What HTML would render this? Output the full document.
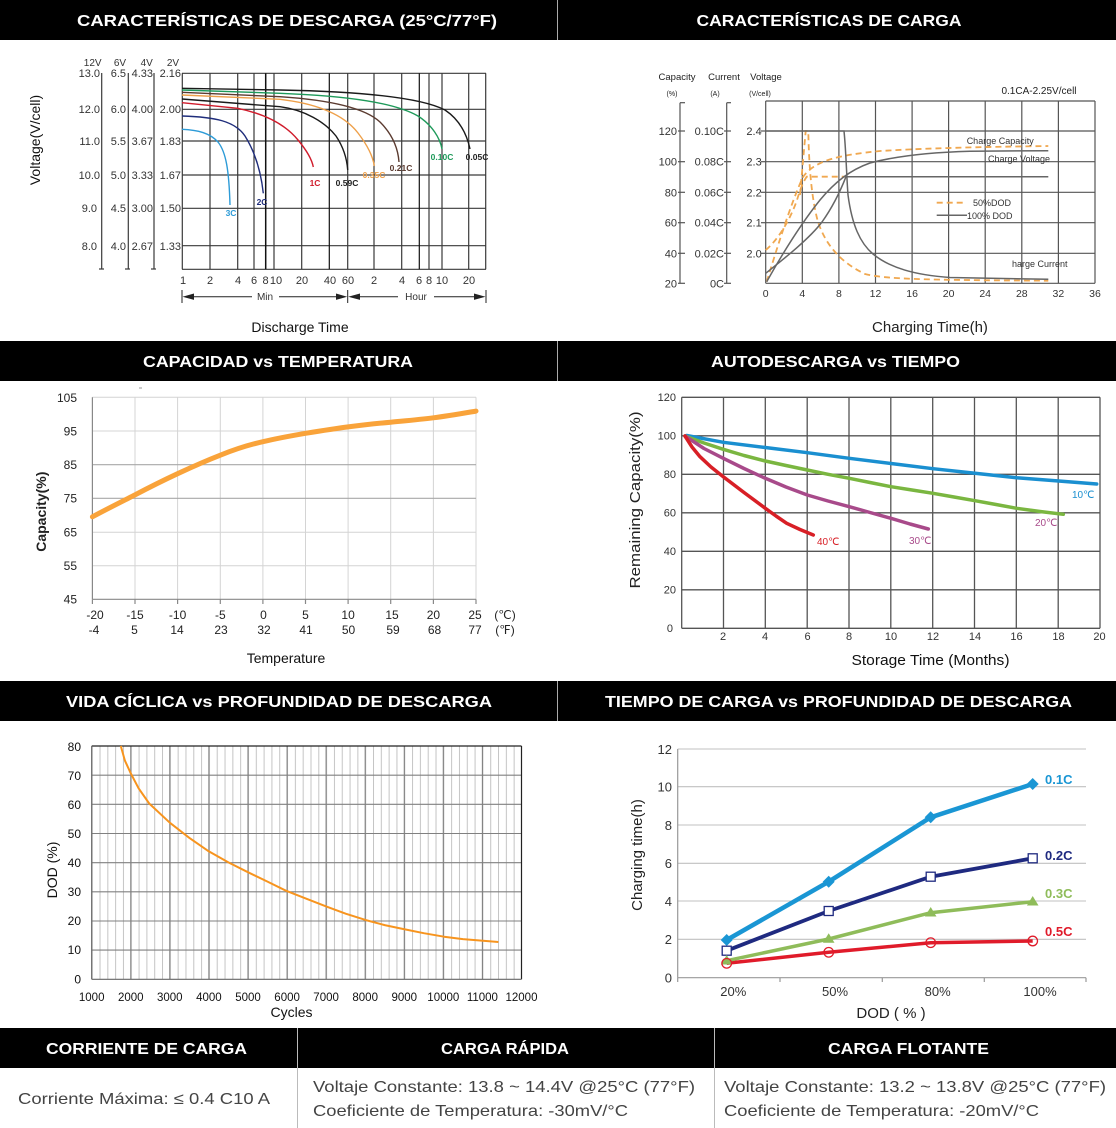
<!DOCTYPE html>
<html><head><meta charset="utf-8"><style>
html,body{margin:0;padding:0;background:#fff;}
svg{display:block;}
text{font-family:"Liberation Sans",sans-serif;}
</style></head><body>
<svg width="1116" height="1128" viewBox="0 0 1116 1128" xmlns="http://www.w3.org/2000/svg">
<defs>
<pattern id="minor" patternUnits="userSpaceOnUse" x="91.7" y="0" width="7.814" height="20">
<line x1="0.5" y1="0" x2="0.5" y2="20" stroke="#c4c4c4" stroke-width="1"/>
</pattern>
</defs>
<rect width="1116" height="1128" fill="#fff"/>

<!-- HEADERS -->
<rect x="0" y="0" width="1116" height="40" fill="#000"/>
<rect x="0" y="341" width="1116" height="40" fill="#000"/>
<rect x="0" y="681" width="1116" height="40" fill="#000"/>
<rect x="0" y="1028" width="1116" height="40" fill="#000"/>
<line x1="557.5" y1="0" x2="557.5" y2="40" stroke="#aaa"/>
<line x1="557.5" y1="341" x2="557.5" y2="381" stroke="#aaa"/>
<line x1="557.5" y1="681" x2="557.5" y2="721" stroke="#aaa"/>
<line x1="297.5" y1="1028" x2="297.5" y2="1128" stroke="#bbb"/>
<line x1="714.5" y1="1028" x2="714.5" y2="1128" stroke="#bbb"/>
<g font-weight="bold" font-size="16" fill="#fff" text-anchor="middle">
<text x="287" y="26" textLength="420" lengthAdjust="spacingAndGlyphs">CARACTERÍSTICAS DE DESCARGA (25°C/77°F)</text>
<text x="829" y="26" textLength="265" lengthAdjust="spacingAndGlyphs">CARACTERÍSTICAS DE CARGA</text>
<text x="278" y="367" textLength="270" lengthAdjust="spacingAndGlyphs">CAPACIDAD vs TEMPERATURA</text>
<text x="835.5" y="367" textLength="249" lengthAdjust="spacingAndGlyphs">AUTODESCARGA vs TIEMPO</text>
<text x="279" y="707" textLength="426" lengthAdjust="spacingAndGlyphs">VIDA CÍCLICA vs PROFUNDIDAD DE DESCARGA</text>
<text x="838.5" y="707" textLength="467" lengthAdjust="spacingAndGlyphs">TIEMPO DE CARGA vs PROFUNDIDAD DE DESCARGA</text>
<text x="146.5" y="1054" textLength="201" lengthAdjust="spacingAndGlyphs">CORRIENTE DE CARGA</text>
<text x="505" y="1054" textLength="128" lengthAdjust="spacingAndGlyphs">CARGA RÁPIDA</text>
<text x="908.5" y="1054" textLength="161" lengthAdjust="spacingAndGlyphs">CARGA FLOTANTE</text>
</g>

<!-- FOOTER BODY -->
<g font-size="16" fill="#444">
<text x="18" y="1104" textLength="252" lengthAdjust="spacingAndGlyphs">Corriente Máxima: ≤ 0.4 C10 A</text>
<text x="313" y="1092" textLength="382" lengthAdjust="spacingAndGlyphs">Voltaje Constante: 13.8 ~ 14.4V @25°C (77°F)</text>
<text x="313" y="1116" textLength="315" lengthAdjust="spacingAndGlyphs">Coeficiente de Temperatura: -30mV/°C</text>
<text x="724" y="1092" textLength="382" lengthAdjust="spacingAndGlyphs">Voltaje Constante: 13.2 ~ 13.8V @25°C (77°F)</text>
<text x="724" y="1116" textLength="315" lengthAdjust="spacingAndGlyphs">Coeficiente de Temperatura: -20mV/°C</text>
</g>

<!-- CHART 1: DISCHARGE -->
<g stroke="#3a3a3a" stroke-width="1.2" fill="none">
<line x1="182" y1="73.3" x2="486" y2="73.3"/>
<line x1="182" y1="109.3" x2="486" y2="109.3"/>
<line x1="182" y1="141" x2="486" y2="141"/>
<line x1="182" y1="175" x2="486" y2="175"/>
<line x1="182" y1="208.3" x2="486" y2="208.3"/>
<line x1="182" y1="245.7" x2="486" y2="245.7"/>
<line x1="182" y1="269.3" x2="486" y2="269.3"/>
<line x1="182.3" y1="73.3" x2="182.3" y2="269.3"/>
<line x1="210" y1="73.3" x2="210" y2="269.3"/>
<line x1="237.7" y1="73.3" x2="237.7" y2="269.3"/>
<line x1="254" y1="73.3" x2="254" y2="269.3"/>
<line x1="265.7" y1="73.3" x2="265.7" y2="269.3" stroke="#111" stroke-width="1.5"/>
<line x1="274" y1="73.3" x2="274" y2="269.3"/>
<line x1="301.7" y1="73.3" x2="301.7" y2="269.3"/>
<line x1="329.3" y1="73.3" x2="329.3" y2="269.3" stroke="#111"/>
<line x1="347.7" y1="73.3" x2="347.7" y2="269.3"/>
<line x1="374" y1="73.3" x2="374" y2="269.3"/>
<line x1="401.7" y1="73.3" x2="401.7" y2="269.3"/>
<line x1="419.3" y1="73.3" x2="419.3" y2="269.3" stroke="#111"/>
<line x1="429" y1="73.3" x2="429" y2="269.3"/>
<line x1="442" y1="73.3" x2="442" y2="269.3"/>
<line x1="468.7" y1="73.3" x2="468.7" y2="269.3"/>
<line x1="485.7" y1="73.3" x2="485.7" y2="269.3"/>
<!-- axis bars -->
<line x1="101.7" y1="73" x2="101.7" y2="269"/>
<line x1="128.3" y1="73" x2="128.3" y2="269"/>
<line x1="154" y1="73" x2="154" y2="269"/>
<line x1="99" y1="269" x2="104" y2="269"/>
<line x1="125" y1="269" x2="130" y2="269"/>
<line x1="151" y1="269" x2="156" y2="269"/>
</g>
<g font-size="10" fill="#333" text-anchor="middle">
<text x="92.7" y="66">12V</text><text x="120" y="66">6V</text><text x="146.7" y="66">4V</text><text x="173" y="66">2V</text>
</g>
<g font-size="11" fill="#333" text-anchor="end">
<text x="100" y="77">13.0</text><text x="126" y="77">6.5</text><text x="153" y="77">4.33</text><text x="181" y="77">2.16</text>
<text x="100" y="113">12.0</text><text x="126" y="113">6.0</text><text x="153" y="113">4.00</text><text x="181" y="113">2.00</text>
<text x="100" y="145">11.0</text><text x="126" y="145">5.5</text><text x="153" y="145">3.67</text><text x="181" y="145">1.83</text>
<text x="100" y="179">10.0</text><text x="126" y="179">5.0</text><text x="153" y="179">3.33</text><text x="181" y="179">1.67</text>
<text x="97" y="212">9.0</text><text x="126" y="212">4.5</text><text x="153" y="212">3.00</text><text x="181" y="212">1.50</text>
<text x="97" y="250">8.0</text><text x="126" y="250">4.0</text><text x="153" y="250">2.67</text><text x="181" y="250">1.33</text>
</g>
<g font-size="11" fill="#333" text-anchor="middle">
<text x="183" y="284">1</text><text x="210" y="284">2</text><text x="238" y="284">4</text><text x="254" y="284">6</text>
<text x="265.5" y="284">8</text><text x="276" y="284">10</text><text x="302" y="284">20</text><text x="330" y="284">40</text>
<text x="348" y="284">60</text><text x="374" y="284">2</text><text x="402" y="284">4</text><text x="419" y="284">6</text>
<text x="429" y="284">8</text><text x="442" y="284">10</text><text x="469" y="284">20</text>
</g>
<g stroke="#222" stroke-width="1" fill="none">
<line x1="182" y1="290" x2="182" y2="303"/>
<line x1="347.7" y1="290" x2="347.7" y2="303"/>
<line x1="486" y1="290" x2="486" y2="303"/>
<line x1="192" y1="296.7" x2="252" y2="296.7"/>
<line x1="279" y1="296.7" x2="338" y2="296.7"/>
<line x1="358" y1="296.7" x2="398" y2="296.7"/>
<line x1="434" y1="296.7" x2="476" y2="296.7"/>
</g>
<g fill="#222">
<polygon points="182.5,296.7 194,293.5 194,299.9"/>
<polygon points="347.2,296.7 336,293.5 336,299.9"/>
<polygon points="348.2,296.7 360,293.5 360,299.9"/>
<polygon points="485.5,296.7 474,293.5 474,299.9"/>
</g>
<g font-size="10" fill="#333" text-anchor="middle">
<text x="265" y="300">Min</text><text x="416" y="300">Hour</text>
</g>
<text x="300" y="332" font-size="14" fill="#111" text-anchor="middle">Discharge Time</text>
<text transform="translate(40,140) rotate(-90)" font-size="14" fill="#111" text-anchor="middle">Voltage(V/cell)</text>
<g fill="none" stroke-width="1.4">
<path d="M182,88.3 L280,90 C360,91.5 420,97 445,110 C460,120 467,135 470,149" stroke="#1a1a1a"/>
<path d="M182,90 L280,93.3 C350,96 395,103 418,116 C432,125 440,138 442,149" stroke="#1e9a5a"/>
<path d="M182,92.3 L280,96.7 C330,100 365,108 380,122 C392,134 398,148 399,162" stroke="#5b3b30"/>
<path d="M182,95 L280,99.3 C320,104 345,116 358,133 C368,146 373,157 374.3,166" stroke="#eea04a"/>
<path d="M182,99 L280,106.7 C305,110 325,122 336,136 C344,148 347,160 347.7,170" stroke="#1a1a1a"/>
<path d="M182,102.7 L237.7,108.3 C265,114 285,124 298,140 C308,152 312,160 313.3,167" stroke="#d01c2c"/>
<path d="M182,116 C215,117 235,121 245,136 C255,152 261,172 263.3,193.3" stroke="#1f2d7b"/>
<path d="M182,129.3 C198,130 210,133 218,142 C226,152 229,170 230,205" stroke="#2d9bd7"/>
</g>
<g font-size="8.5" font-weight="bold" text-anchor="middle">
<text x="231" y="216" fill="#2d9bd7">3C</text>
<text x="262" y="205" fill="#1f2d7b">2C</text>
<text x="315" y="186" fill="#d01c2c">1C</text>
<text x="347" y="186" fill="#222">0.59C</text>
<text x="374" y="178" fill="#eea04a">0.35C</text>
<text x="401" y="171" fill="#5b3b30">0.21C</text>
<text x="442" y="160" fill="#1e9a5a">0.10C</text>
<text x="477" y="160" fill="#222">0.05C</text>
</g>

<!-- CHART 2: CHARGE -->
<g stroke="#555" stroke-width="1.2" fill="none">
<line x1="765.7" y1="101" x2="1095" y2="101"/>
<line x1="765.7" y1="131" x2="1095" y2="131"/>
<line x1="765.7" y1="161.7" x2="1095" y2="161.7"/>
<line x1="765.7" y1="192.3" x2="1095" y2="192.3"/>
<line x1="765.7" y1="222.7" x2="1095" y2="222.7"/>
<line x1="765.7" y1="253.3" x2="1095" y2="253.3"/>
<line x1="765.7" y1="283.3" x2="1095" y2="283.3"/>
<line x1="765.7" y1="101" x2="765.7" y2="283.3"/>
<line x1="802.3" y1="101" x2="802.3" y2="283.3"/>
<line x1="838.9" y1="101" x2="838.9" y2="283.3"/>
<line x1="875.5" y1="101" x2="875.5" y2="283.3"/>
<line x1="912.1" y1="101" x2="912.1" y2="283.3"/>
<line x1="948.6" y1="101" x2="948.6" y2="283.3"/>
<line x1="985.2" y1="101" x2="985.2" y2="283.3"/>
<line x1="1021.8" y1="101" x2="1021.8" y2="283.3"/>
<line x1="1058.4" y1="101" x2="1058.4" y2="283.3"/>
<line x1="1095" y1="101" x2="1095" y2="283.3"/>
<line x1="680" y1="102.7" x2="680" y2="283.3"/>
<line x1="726.7" y1="102.7" x2="726.7" y2="283.3"/>
<line x1="680" y1="102.7" x2="685" y2="102.7"/>
<line x1="726.7" y1="102.7" x2="731" y2="102.7"/>
<line x1="678" y1="131" x2="685" y2="131"/><line x1="678" y1="161.7" x2="685" y2="161.7"/><line x1="678" y1="192.3" x2="685" y2="192.3"/>
<line x1="678" y1="222.7" x2="685" y2="222.7"/><line x1="678" y1="253.3" x2="685" y2="253.3"/><line x1="678" y1="283.3" x2="685" y2="283.3"/>
<line x1="724" y1="131" x2="731" y2="131"/><line x1="724" y1="161.7" x2="731" y2="161.7"/><line x1="724" y1="192.3" x2="731" y2="192.3"/>
<line x1="724" y1="222.7" x2="731" y2="222.7"/><line x1="724" y1="253.3" x2="731" y2="253.3"/><line x1="724" y1="283.3" x2="731" y2="283.3"/>
<line x1="761" y1="131" x2="766" y2="131"/><line x1="761" y1="161.7" x2="766" y2="161.7"/><line x1="761" y1="192.3" x2="766" y2="192.3"/>
<line x1="761" y1="222.7" x2="766" y2="222.7"/><line x1="761" y1="253.3" x2="766" y2="253.3"/>
</g>
<g font-size="9.5" fill="#222" text-anchor="middle">
<text x="677" y="80">Capacity</text><text x="724" y="80">Current</text><text x="766" y="80">Voltage</text>
</g>
<g font-size="7" fill="#222" text-anchor="middle">
<text x="672" y="96">(%)</text><text x="715" y="96">(A)</text><text x="760" y="96">(V/cell)</text>
</g>
<g font-size="11" fill="#333" text-anchor="end">
<text x="677" y="135">120</text><text x="677" y="165.7">100</text><text x="677" y="196.3">80</text>
<text x="677" y="226.7">60</text><text x="677" y="257.3">40</text><text x="677" y="287.3">20</text>
<text x="724" y="135">0.10C</text><text x="724" y="165.7">0.08C</text><text x="724" y="196.3">0.06C</text>
<text x="724" y="226.7">0.04C</text><text x="724" y="257.3">0.02C</text><text x="724" y="287.3">0C</text>
<text x="761.7" y="135">2.4</text><text x="761.7" y="165.7">2.3</text><text x="761.7" y="196.3">2.2</text>
<text x="761.7" y="226.7">2.1</text><text x="761.7" y="257.3">2.0</text>
</g>
<g font-size="10.5" fill="#333" text-anchor="middle">
<text x="765.7" y="297">0</text><text x="802.3" y="297">4</text><text x="838.9" y="297">8</text>
<text x="875.5" y="297">12</text><text x="912.1" y="297">16</text><text x="948.6" y="297">20</text>
<text x="985.2" y="297">24</text><text x="1021.8" y="297">28</text><text x="1058.4" y="297">32</text><text x="1095" y="297">36</text>
</g>
<text x="1039" y="94" font-size="10" fill="#222" text-anchor="middle">0.1CA-2.25V/cell</text>
<g fill="none" stroke="#f0a850" stroke-width="1.8" stroke-dasharray="6,4">
<path d="M765.7,250 C778,240 790,220 797,200 C800,190 803,182 806.7,176.7 L846.7,176.7"/>
<path d="M766.7,281.7 C775,255 790,205 803,177 C815,160 840,155 880,151 C930,148 980,147 1048.3,146"/>
<path d="M800,195 L805.7,131 L808.3,131 C809,170 812,200 818,222 C826,245 840,262 865,274 C885,279 920,280 1048.3,280.7"/>
<line x1="936.7" y1="202.7" x2="965" y2="202.7"/>
</g>
<g fill="none" stroke="#666" stroke-width="1.5">
<path d="M765.7,131 L844,131 C846,150 846.5,175 848,195 C852,225 860,243 873,254 C890,268 915,275 950,277.5 L1048.3,279.3"/>
<path d="M765.7,273.3 C785,258 810,238 822,222 C832,208 840,192 846,176.7 L1048.3,176.7"/>
<path d="M766.7,281.7 C780,258 800,225 820,200 C835,182 850,170 870,163 C900,155 940,152 970,151.2 L1048.3,150.7"/>
<line x1="936.7" y1="215.3" x2="967" y2="215.3"/>
</g>
<g font-size="9" fill="#333">
<text x="973" y="206">50%DOD</text>
<text x="967" y="219">100% DOD</text>
<text x="966.7" y="144">Charge Capacity</text>
<text x="988" y="162">Charge Voltage</text>
<text x="1012" y="267">harge Current</text>
</g>
<text x="930" y="332" font-size="15" fill="#222" text-anchor="middle">Charging Time(h)</text>

<!-- CHART 3: CAPACITY vs TEMP -->
<g stroke="#d4d4d4" stroke-width="1" fill="none">
<line x1="92.4" y1="397.3" x2="476" y2="397.3"/>
<line x1="92.4" y1="431" x2="476" y2="431"/>
<line x1="92.4" y1="532.3" x2="476" y2="532.3"/>
<line x1="92.4" y1="565.7" x2="476" y2="565.7"/>
<line x1="135" y1="397.3" x2="135" y2="599.3"/>
<line x1="177.6" y1="397.3" x2="177.6" y2="599.3"/>
<line x1="220.3" y1="397.3" x2="220.3" y2="599.3"/>
<line x1="262.9" y1="397.3" x2="262.9" y2="599.3"/>
<line x1="305.5" y1="397.3" x2="305.5" y2="599.3"/>
<line x1="348.1" y1="397.3" x2="348.1" y2="599.3"/>
<line x1="390.7" y1="397.3" x2="390.7" y2="599.3"/>
<line x1="433.4" y1="397.3" x2="433.4" y2="599.3"/>
<line x1="476" y1="397.3" x2="476" y2="599.3"/>
</g>
<g stroke="#a8a8a8" stroke-width="1.2">
<line x1="92.4" y1="464.7" x2="476" y2="464.7"/>
<line x1="92.4" y1="498.3" x2="476" y2="498.3"/>
</g>
<g stroke="#888" stroke-width="1.2">
<line x1="92.4" y1="397.3" x2="92.4" y2="599.3"/>
<line x1="92.4" y1="599.3" x2="476" y2="599.3"/>
<line x1="92.4" y1="599.3" x2="92.4" y2="604"/><line x1="135" y1="599.3" x2="135" y2="604"/>
<line x1="177.6" y1="599.3" x2="177.6" y2="604"/><line x1="220.3" y1="599.3" x2="220.3" y2="604"/>
<line x1="262.9" y1="599.3" x2="262.9" y2="604"/><line x1="305.5" y1="599.3" x2="305.5" y2="604"/>
<line x1="348.1" y1="599.3" x2="348.1" y2="604"/><line x1="390.7" y1="599.3" x2="390.7" y2="604"/>
<line x1="433.4" y1="599.3" x2="433.4" y2="604"/><line x1="476" y1="599.3" x2="476" y2="604"/>
</g>
<line x1="139" y1="388" x2="142" y2="388" stroke="#999"/>
<g font-size="12" fill="#222" text-anchor="end">
<text x="77" y="402">105</text><text x="77" y="435.5">95</text><text x="77" y="469">85</text>
<text x="77" y="502.5">75</text><text x="77" y="536.5">65</text><text x="77" y="570">55</text><text x="77" y="603.5">45</text>
</g>
<g font-size="12" fill="#222" text-anchor="middle">
<text x="95" y="619">-20</text><text x="135" y="619">-15</text><text x="177.6" y="619">-10</text><text x="220.3" y="619">-5</text>
<text x="263.5" y="619">0</text><text x="305.5" y="619">5</text><text x="348.1" y="619">10</text><text x="392" y="619">15</text>
<text x="433.4" y="619">20</text><text x="475" y="619">25</text><text x="505" y="619">(℃)</text>
<text x="94" y="634">-4</text><text x="134.5" y="634">5</text><text x="177" y="634">14</text><text x="221" y="634">23</text>
<text x="264" y="634">32</text><text x="306" y="634">41</text><text x="348.5" y="634">50</text><text x="393" y="634">59</text>
<text x="434.5" y="634">68</text><text x="475" y="634">77</text><text x="505" y="634">(℉)</text>
</g>
<text transform="translate(46,511.7) rotate(-90)" font-size="14" font-weight="bold" fill="#222" text-anchor="middle">Capacity(%)</text>
<text x="286" y="663" font-size="14" fill="#111" text-anchor="middle">Temperature</text>
<path d="M92.4,516.8 C106,509.5 121,502 135,494.9 C149,487.5 163,480.5 177.6,473.7 C192,467 206,460.8 220.3,455.2 C234,449.6 248,445 262.9,441.7 C277,438.3 291,435.8 305.5,433.3 C320,431 334,428.8 348.1,426.9 C362,425 376,423.5 390.7,422.2 C405,420.8 419,419.6 433.4,417.8 C448,416 462,413.5 476,411.1" fill="none" stroke="#f9a33a" stroke-width="5" stroke-linecap="round"/>

<!-- CHART 4: SELF DISCHARGE -->
<g stroke="#555" stroke-width="1.3" fill="none">
<line x1="681.7" y1="397.3" x2="1100" y2="397.3"/>
<line x1="681.7" y1="435.8" x2="1100" y2="435.8"/>
<line x1="681.7" y1="474.3" x2="1100" y2="474.3"/>
<line x1="681.7" y1="512.8" x2="1100" y2="512.8"/>
<line x1="681.7" y1="551.3" x2="1100" y2="551.3"/>
<line x1="681.7" y1="589.8" x2="1100" y2="589.8"/>
<line x1="681.7" y1="628.3" x2="1100" y2="628.3"/>
<line x1="681.7" y1="397.3" x2="681.7" y2="628.3"/>
<line x1="723.5" y1="397.3" x2="723.5" y2="628.3"/>
<line x1="765.3" y1="397.3" x2="765.3" y2="628.3"/>
<line x1="807.2" y1="397.3" x2="807.2" y2="628.3"/>
<line x1="849" y1="397.3" x2="849" y2="628.3"/>
<line x1="890.8" y1="397.3" x2="890.8" y2="628.3"/>
<line x1="932.7" y1="397.3" x2="932.7" y2="628.3"/>
<line x1="974.5" y1="397.3" x2="974.5" y2="628.3"/>
<line x1="1016.3" y1="397.3" x2="1016.3" y2="628.3"/>
<line x1="1058.2" y1="397.3" x2="1058.2" y2="628.3"/>
<line x1="1100" y1="397.3" x2="1100" y2="628.3"/>
</g>
<g font-size="11" fill="#333" text-anchor="end">
<text x="676" y="401">120</text><text x="676" y="439.5">100</text><text x="676" y="478">80</text>
<text x="676" y="516.5">60</text><text x="676" y="555">40</text><text x="676" y="593.5">20</text><text x="673" y="632">0</text>
</g>
<g font-size="11" fill="#333" text-anchor="middle">
<text x="723" y="640">2</text><text x="765" y="640">4</text><text x="807.5" y="640">6</text><text x="849" y="640">8</text>
<text x="891" y="640">10</text><text x="933" y="640">12</text><text x="975" y="640">14</text><text x="1016.5" y="640">16</text>
<text x="1058.5" y="640">18</text><text x="1099.5" y="640">20</text>
</g>
<text transform="translate(640,500) rotate(-90)" font-size="15" fill="#222" text-anchor="middle" textLength="177" lengthAdjust="spacingAndGlyphs">Remaining  Capacity(%)</text>
<text x="930.5" y="665" font-size="15" fill="#111" text-anchor="middle" textLength="158" lengthAdjust="spacingAndGlyphs">Storage Time (Months)</text>
<g fill="none" stroke-width="3.5" stroke-linecap="round" stroke-linejoin="round">
<polyline stroke="#1a8fd0" points="686.7,435.5 723.3,442.3 765.3,447.5 807.3,452.7 849.3,458.3 891,463.5 933,468.7 975,473.3 1016.7,477.7 1058.7,481 1096.7,484"/>
<polyline stroke="#7ab640" points="685,436 704,443 723.3,449.3 744,455.5 765.3,461 786,465.5 807.3,470 828,474.3 849.3,478.3 870,482.5 891,486.7 912,490 933,493.3 954,497 975,500.7 996,504.5 1016.7,508.3 1040,511.5 1063.3,514.3"/>
<polyline stroke="#a84a8a" points="685,436 704,448.5 723.3,458.3 744,468.5 765.3,478.3 786,487 807.3,495 828,501 849.3,506.7 870,512.5 891,518.3 910,524 928.3,529"/>
<polyline stroke="#d81f26" points="685,436 692,447 700,456.7 711,467 723.3,476.7 744,492.5 765.3,508.3 776,516 786.7,523.3 800,529.5 813.3,535"/>
</g>
<g font-size="10">
<text x="1072" y="498" fill="#1a8fd0">10℃</text>
<text x="1035" y="526" fill="#a84a8a">20℃</text>
<text x="909" y="544" fill="#a84a8a">30℃</text>
<text x="817" y="545" fill="#d81f26">40℃</text>
</g>

<!-- CHART 5: CYCLE LIFE -->
<rect x="91.7" y="746" width="429.8" height="233.3" fill="url(#minor)"/>
<g stroke="#808080" stroke-width="1.1" fill="none">
<line x1="91.7" y1="950.1" x2="521.5" y2="950.1"/>
<line x1="91.7" y1="921" x2="521.5" y2="921"/>
<line x1="91.7" y1="891.8" x2="521.5" y2="891.8"/>
<line x1="91.7" y1="862.7" x2="521.5" y2="862.7"/>
<line x1="91.7" y1="833.5" x2="521.5" y2="833.5"/>
<line x1="91.7" y1="804.3" x2="521.5" y2="804.3"/>
<line x1="91.7" y1="775.2" x2="521.5" y2="775.2"/>
<line x1="130.8" y1="746" x2="130.8" y2="979.3"/>
<line x1="169.8" y1="746" x2="169.8" y2="979.3"/>
<line x1="208.9" y1="746" x2="208.9" y2="979.3"/>
<line x1="248" y1="746" x2="248" y2="979.3"/>
<line x1="287.1" y1="746" x2="287.1" y2="979.3"/>
<line x1="326.1" y1="746" x2="326.1" y2="979.3"/>
<line x1="365.2" y1="746" x2="365.2" y2="979.3"/>
<line x1="404.3" y1="746" x2="404.3" y2="979.3"/>
<line x1="443.3" y1="746" x2="443.3" y2="979.3"/>
<line x1="482.4" y1="746" x2="482.4" y2="979.3"/>
</g>
<g stroke="#222" stroke-width="1.2" fill="none">
<line x1="91.7" y1="746" x2="521.5" y2="746"/>
<line x1="521.5" y1="746" x2="521.5" y2="979.3"/>
</g>
<g stroke="#666" stroke-width="1.2" fill="none">
<line x1="91.7" y1="746" x2="91.7" y2="979.3"/>
<line x1="91.7" y1="979.3" x2="521.5" y2="979.3"/>
</g>
<g font-size="12" fill="#111" text-anchor="end">
<text x="81" y="751">80</text><text x="81" y="780">70</text><text x="81" y="809">60</text><text x="81" y="838">50</text>
<text x="81" y="867">40</text><text x="81" y="896">30</text><text x="81" y="925">20</text><text x="81" y="954">10</text><text x="81" y="983.5">0</text>
</g>
<g font-size="11.5" fill="#111" text-anchor="middle">
<text x="91.7" y="1001">1000</text><text x="130.8" y="1001">2000</text><text x="169.8" y="1001">3000</text>
<text x="208.9" y="1001">4000</text><text x="248" y="1001">5000</text><text x="287.1" y="1001">6000</text>
<text x="326.1" y="1001">7000</text><text x="365.2" y="1001">8000</text><text x="404.3" y="1001">9000</text>
<text x="443.3" y="1001">10000</text><text x="482.4" y="1001">11000</text><text x="521.5" y="1001">12000</text>
</g>
<text x="291.5" y="1017" font-size="14" fill="#111" text-anchor="middle">Cycles</text>
<text transform="translate(57,870) rotate(-90)" font-size="14" fill="#111" text-anchor="middle">DOD (%)</text>
<polyline fill="none" stroke="#f7941e" stroke-width="2" stroke-linejoin="round" points="120.8,746 124.9,760.6 130.8,773.4 138.6,788.3 149.2,803.5 169.8,822.7 189.4,837.9 207.8,850.7 228.4,862.4 246.9,871.7 267.5,881.6 285.9,890.7 306.6,898.8 326.8,906.7 345.7,913.7 365.9,920.1 384.7,925.1 405,929.4 423.8,933.2 444,936.7 462.9,939.1 483,940.8 498.4,942"/>

<!-- CHART 6: CHARGING TIME vs DOD -->
<g stroke="#c0c0c0" stroke-width="1.1" fill="none">
<line x1="677.7" y1="749" x2="1086" y2="749"/>
<line x1="677.7" y1="786.7" x2="1086" y2="786.7"/>
<line x1="677.7" y1="825" x2="1086" y2="825"/>
<line x1="677.7" y1="863.3" x2="1086" y2="863.3"/>
<line x1="677.7" y1="901" x2="1086" y2="901"/>
<line x1="677.7" y1="939.3" x2="1086" y2="939.3"/>
</g>
<g stroke="#999" stroke-width="1.2" fill="none">
<line x1="677.7" y1="749" x2="677.7" y2="977.7"/>
<line x1="677.7" y1="977.7" x2="1086" y2="977.7"/>
<line x1="677.7" y1="977.7" x2="677.7" y2="982"/><line x1="780" y1="977.7" x2="780" y2="982"/>
<line x1="882.3" y1="977.7" x2="882.3" y2="982"/><line x1="984.3" y1="977.7" x2="984.3" y2="982"/>
<line x1="1086" y1="977.7" x2="1086" y2="982"/>
</g>
<g font-size="13" fill="#333" text-anchor="end">
<text x="672" y="754">12</text><text x="672" y="791.5">10</text><text x="672" y="830">8</text><text x="672" y="868">6</text>
<text x="672" y="906">4</text><text x="672" y="944">2</text><text x="672" y="982.5">0</text>
</g>
<g font-size="13" fill="#333" text-anchor="middle">
<text x="733.3" y="996">20%</text><text x="835" y="996">50%</text><text x="937.7" y="996">80%</text><text x="1040" y="996">100%</text>
</g>
<text transform="translate(642,855) rotate(-90)" font-size="15" fill="#222" text-anchor="middle">Charging time(h)</text>
<text x="891" y="1018" font-size="15" fill="#222" text-anchor="middle">DOD ( % )</text>
<polyline fill="none" stroke="#e01b2a" stroke-width="3.5" points="726.7,963.3 828.7,952.3 930.7,942.7 1032.7,941"/>
<polyline fill="none" stroke="#8fbc5a" stroke-width="3.5" points="726.7,960.7 828.7,939 930.7,912.7 1032.7,901.7"/>
<polyline fill="none" stroke="#1f2a80" stroke-width="3.8" points="726.7,950.7 828.7,911 930.7,876.7 1032.7,858.3"/>
<polyline fill="none" stroke="#1a96d4" stroke-width="4.5" points="726.7,940 828.7,881.7 930.7,817.3 1032.7,784"/>
<g fill="#1a96d4">
<polygon points="726.7,934 732.7,940 726.7,946 720.7,940"/>
<polygon points="828.7,875.7 834.7,881.7 828.7,887.7 822.7,881.7"/>
<polygon points="930.7,811.3 936.7,817.3 930.7,823.3 924.7,817.3"/>
<polygon points="1032.7,778 1038.7,784 1032.7,790 1026.7,784"/>
</g>
<g fill="#fff" stroke="#1f2a80" stroke-width="1.3">
<rect x="722.2" y="946.2" width="9" height="9"/>
<rect x="824.2" y="906.5" width="9" height="9"/>
<rect x="926.2" y="872.2" width="9" height="9"/>
<rect x="1028.2" y="853.8" width="9" height="9"/>
</g>
<g fill="#8fbc5a">
<polygon points="726.7,955 732.5,964.5 720.9,964.5"/>
<polygon points="828.7,933.3 834.5,942.8 822.9,942.8"/>
<polygon points="930.7,907 936.5,916.5 924.9,916.5"/>
<polygon points="1032.7,896 1038.5,905.5 1026.9,905.5"/>
</g>
<g fill="none" stroke="#e01b2a" stroke-width="1.3">
<circle cx="726.7" cy="963.3" r="4.8"/>
<circle cx="828.7" cy="952.3" r="4.8"/>
<circle cx="930.7" cy="942.7" r="4.8"/>
<circle cx="1032.7" cy="941" r="4.8"/>
</g>
<g font-size="13" font-weight="bold">
<text x="1045" y="784" fill="#1a96d4">0.1C</text>
<text x="1045" y="860" fill="#1f2a80">0.2C</text>
<text x="1045" y="898" fill="#8fbc5a">0.3C</text>
<text x="1045" y="936" fill="#e01b2a">0.5C</text>
</g>
</svg>
</body></html>
